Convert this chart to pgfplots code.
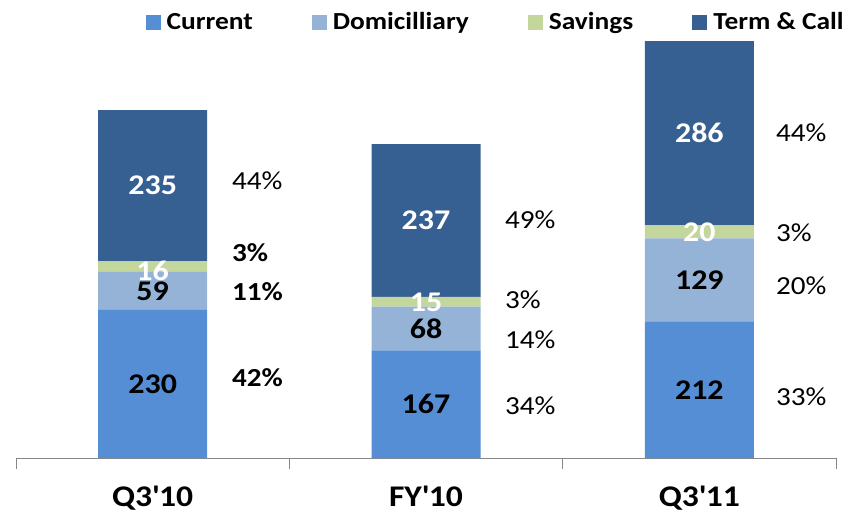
\documentclass[border=0pt]{standalone}
\usepackage{fontspec}
\setmainfont{Carlito}[FakeStretch=1.12]
\usepackage{pgfplots}
\pgfplotsset{compat=1.18}
\definecolor{cur}{HTML}{558ED5}
\definecolor{dom}{HTML}{95B3D7}
\definecolor{sav}{HTML}{C3D69B}
\definecolor{term}{HTML}{376092}
\definecolor{axgray}{HTML}{868686}
\begin{document}
\begin{tikzpicture}[x=1pt,y=1pt,
  v/.style={font=\bfseries\fontsize{28.5}{30}\selectfont, inner sep=0pt},
  w/.style={v, text=white},
  p/.style={font=\fontsize{26}{30}\selectfont, anchor=west, inner sep=0pt},
  pb/.style={font=\bfseries\fontsize{26}{30}\selectfont, anchor=west, inner sep=0pt}]
\useasboundingbox (0,0) rectangle (847,512);
\begin{axis}[
  at={(16pt,54pt)}, anchor=south west,
  scale only axis, width=820pt, height=451.1pt,
  xmin=-0.5, xmax=2.5, ymin=0, ymax=700,
  ybar stacked, bar width=109pt,
  axis x line*=bottom, axis y line=none,
  x axis line style={axgray, line width=1pt, -},
  xtick={0,1,2},
  xticklabels={Q3\textquotesingle 10, FY\textquotesingle 10, Q3\textquotesingle 11},
  major tick length=0pt,
  extra x ticks={-0.5,0.5,1.5,2.5},
  extra x tick labels={},
  extra x tick style={major tick length=11pt, tick align=outside, tick style={axgray, line width=1pt}},
  x tick label style={font=\bfseries\fontsize{30}{32}\selectfont, yshift=-24pt},
  legend style={at={(0.585,0.9665)}, anchor=center, draw=none, fill=none,
    legend columns=4, font=\bfseries\fontsize{24.5}{28}\selectfont,
    /tikz/every even column/.append style={column sep=57pt}},
  legend image code/.code={\fill[#1] (0pt,-7.5pt) rectangle (15pt,7.5pt); \path (19pt,0pt);},
  clip=false,
]
\addplot+[draw=none, fill=cur] coordinates {(0,230) (1,167) (2,212)};
\addplot+[draw=none, fill=dom] coordinates {(0,59) (1,68) (2,129)};
\addplot+[draw=none, fill=sav] coordinates {(0,16) (1,15) (2,20)};
\addplot+[draw=none, fill=term] coordinates {(0,235) (1,237) (2,286)};
\legend{Current, Domicilliary, Savings, Term \& Call}
% label anchors (segment centres and percentage positions)
\coordinate (a1) at (axis cs:0,115);
\coordinate (a2) at (axis cs:0,259.5);
\coordinate (a3) at (axis cs:0,291);
\coordinate (a4) at (axis cs:0,422.5);
\coordinate (b1) at (axis cs:1,83.5);
\coordinate (b2) at (axis cs:1,201);
\coordinate (b3) at (axis cs:1,242);
\coordinate (b4) at (axis cs:1,368.5);
\coordinate (c1) at (axis cs:2,106);
\coordinate (c2) at (axis cs:2,276.5);
\coordinate (c3) at (axis cs:2,351);
\coordinate (c4) at (axis cs:2,504);
\coordinate (pa4) at (axis cs:0.29,431);
\coordinate (pa3) at (axis cs:0.29,318);
\coordinate (pa2) at (axis cs:0.29,258);
\coordinate (pa1) at (axis cs:0.29,124);
\coordinate (pb4) at (axis cs:1.289,369);
\coordinate (pb3) at (axis cs:1.289,245);
\coordinate (pb2) at (axis cs:1.289,183);
\coordinate (pb1) at (axis cs:1.289,81);
\coordinate (pc4) at (axis cs:2.28,504);
\coordinate (pc3) at (axis cs:2.28,349);
\coordinate (pc2) at (axis cs:2.28,268);
\coordinate (pc1) at (axis cs:2.28,95);
\end{axis}
\node[v] at (a1) {230};
\node[v] at (a2) {59};
\node[w] at (a3) {16};
\node[w] at (a4) {235};
\node[v] at (b1) {167};
\node[v] at (b2) {68};
\node[w] at (b3) {15};
\node[w] at (b4) {237};
\node[v] at (c1) {212};
\node[v] at (c2) {129};
\node[w] at (c3) {20};
\node[w] at (c4) {286};
\node[p]  at (pa4) {44\%};
\node[pb] at (pa3) {3\%};
\node[pb] at (pa2) {11\%};
\node[pb] at (pa1) {42\%};
\node[p] at (pb4) {49\%};
\node[p] at (pb3) {3\%};
\node[p] at (pb2) {14\%};
\node[p] at (pb1) {34\%};
\node[p] at (pc4) {44\%};
\node[p] at (pc3) {3\%};
\node[p] at (pc2) {20\%};
\node[p] at (pc1) {33\%};
\end{tikzpicture}
\end{document}
